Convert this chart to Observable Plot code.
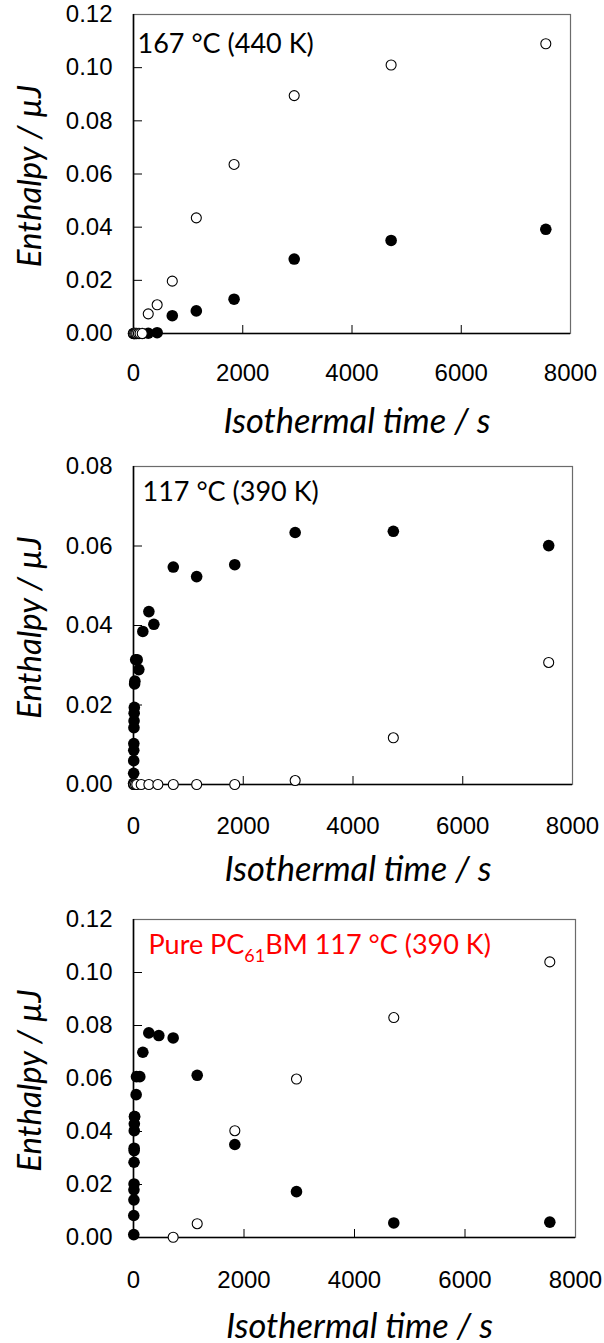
<!DOCTYPE html>
<html>
<head>
<meta charset="utf-8">
<script src="https://cdn.jsdelivr.net/npm/d3@7"></script>
<script src="https://cdn.jsdelivr.net/npm/@observablehq/plot@0.6"></script>
<style>
  html, body { margin: 0; padding: 0; background: #fff; }
  #chart svg { display: block; }
</style>
</head>
<body>
<div id="chart"></div>
<script>
// ---------- tick labels / axis text ----------
const xTicks = [0, 2000, 4000, 6000, 8000];
const yTicks012 = [0, 0.02, 0.04, 0.06, 0.08, 0.10, 0.12];
const yTicks008 = [0, 0.02, 0.04, 0.06, 0.08];
const xLabel = "Isothermal time / s";
const yLabel = "Enthalpy / µJ";
const titles = ["167 °C (440 K)", "117 °C (390 K)", "Pure PC61BM 117 °C (390 K)"];

// ---------- panel 1 : 167 °C ----------
const p1FilledTime = [0, 10, 20, 40, 60, 100, 160, 270, 433, 710, 1150, 1841, 2942, 4716, 7548];
const p1FilledVal  = [0, 0, 0, 0, 0, 0, 0, 0.0001, 0.0003, 0.0067, 0.0085, 0.0129, 0.0280, 0.0350, 0.0392];
const p1OpenTime   = [0, 20, 40, 60, 90, 120, 160, 270, 433, 710, 1150, 1841, 2942, 4716, 7548];
const p1OpenVal    = [0, 0, 0, 0, 0, 0, 0, 0.0074, 0.0108, 0.0197, 0.0435, 0.0636, 0.0895, 0.1010, 0.1090];

// ---------- panel 2 : 117 °C ----------
const p2FilledTime = [2, 3, 4, 5, 6, 8, 10, 12, 15, 20, 25, 40, 67, 97, 170, 280, 371, 725, 1151, 1845, 2946, 4735, 7566];
const p2FilledVal  = [0.0003, 0.0028, 0.0060, 0.0086, 0.0103, 0.0143, 0.0160, 0.0179, 0.0194, 0.0253, 0.0260, 0.0314, 0.0314, 0.0289, 0.0385, 0.0435, 0.0403, 0.0547, 0.0523, 0.0553, 0.0634, 0.0637, 0.0601];
const p2OpenTime   = [0, 10, 36, 60, 140, 280, 444, 725, 1151, 1845, 2946, 4735, 7566];
const p2OpenVal    = [0, 0, 0, 0, 0, 0, 0, 0, 0, 0, 0.0010, 0.01175, 0.0307];

// ---------- panel 3 : pure PC61BM 117 °C ----------
const p3FilledTime = [5, 5, 8, 8, 10, 10, 12, 12, 14, 15, 18, 20, 48, 54, 114, 169, 277, 458, 718, 1153, 1834, 2950, 4711, 7535];
const p3FilledVal  = [0.0011, 0.0083, 0.0142, 0.0180, 0.0202, 0.0284, 0.0328, 0.0337, 0.0403, 0.0429, 0.0456, 0.0456, 0.0539, 0.0607, 0.0607, 0.0699, 0.0772, 0.0762, 0.0753, 0.0612, 0.0351, 0.0173, 0.0055, 0.0058];
const p3OpenTime   = [718, 1153, 1834, 2950, 4711, 7535];
const p3OpenVal    = [0.0001, 0.0052, 0.0403, 0.0598, 0.0830, 0.1040];

const zip = (t, v) => t.map((d, i) => ({t: d, v: v[i]}));

const tickFont = "'Liberation Sans', Arial, sans-serif";
const textFont = "Lato, 'Open Sans', sans-serif";

function panel(cfg) {
  return Plot.plot({
    width: 604,
    height: cfg.height,
    marginTop: cfg.mt,
    marginBottom: cfg.mb,
    marginLeft: 133,
    marginRight: cfg.mr,
    style: {background: "white", overflow: "visible", fontFamily: tickFont},
    x: {domain: [0, 8000]},
    y: {domain: cfg.yDomain},
    marks: [
      Plot.frame({stroke: "#6b6b6b", strokeWidth: 1.2}),
      Plot.ruleX([0], {stroke: "#000", strokeWidth: 1.6}),
      Plot.ruleY([0], {stroke: "#000", strokeWidth: 1.6}),
      // inward tick marks
      Plot.axisY({ticks: cfg.yTicks.slice(1, -1), tickSize: -9, tickFormat: () => "", label: null, stroke: "#000"}),
      Plot.axisX({ticks: xTicks.slice(1, -1), tickSize: -8, tickFormat: () => "", label: null, stroke: "#000"}),
      // tick labels
      Plot.axisY({ticks: cfg.yTicks, tickSize: 0, tickPadding: 21, tickFormat: d3.format(".2f"),
                  fontSize: 24, fontFamily: tickFont, fill: "#000", label: null}),
      Plot.axisX({ticks: xTicks, tickSize: 0, tickPadding: cfg.xPad, tickFormat: d3.format("d"),
                  fontSize: 24, fontFamily: tickFont, fill: "#000", label: null}),
      // data
      Plot.dot(zip(cfg.filledT, cfg.filledV), {x: "t", y: "v", r: 5.8, fill: "#000", stroke: "none"}),
      Plot.dot(zip(cfg.openT, cfg.openV), {x: "t", y: "v", r: 5, fill: "#fff", stroke: "#000", strokeWidth: 1.1}),
      // panel title
      Plot.text([cfg.title], {text: d => d, frameAnchor: "top-left", textAnchor: "start", lineAnchor: "bottom",
                  dx: cfg.tdx, dy: cfg.tdy, fontSize: 27, fontFamily: textFont, fill: cfg.tcolor}),
      // axis titles
      Plot.text([xLabel], {text: d => d, frameAnchor: "bottom", textAnchor: "middle", lineAnchor: "bottom",
                  dx: 5, dy: cfg.xldy, fontSize: 34.5, fontStyle: "italic", fontFamily: textFont, fill: "#000"}),
      Plot.text([yLabel], {text: d => d, frameAnchor: "left", textAnchor: "middle", lineAnchor: "bottom",
                  rotate: -90, dx: -93, dy: 2, fontSize: 33, fontStyle: "italic", fontFamily: textFont, fill: "#000"})
    ]
  });
}

const chart = document.getElementById("chart");
chart.append(panel({
  height: 450, mt: 14, mb: 117, mr: 34, yDomain: [0, 0.12], yTicks: yTicks012, xPad: 30,
  filledT: p1FilledTime, filledV: p1FilledVal, openT: p1OpenTime, openV: p1OpenVal,
  title: titles[0], tdx: 4, tdy: 38, tcolor: "#000", xldy: 99
}));
chart.append(panel({
  height: 450, mt: 16, mb: 116, mr: 32, yDomain: [0, 0.08], yTicks: yTicks008, xPad: 32,
  filledT: p2FilledTime, filledV: p2FilledVal, openT: p2OpenTime, openV: p2OpenVal,
  title: titles[1], tdx: 9, tdy: 34, tcolor: "#000", xldy: 96
}));
const svg3 = panel({
  height: 443, mt: 19, mb: 106, mr: 29, yDomain: [0, 0.12], yTicks: yTicks012, xPad: 33,
  filledT: p3FilledTime, filledV: p3FilledVal, openT: p3OpenTime, openV: p3OpenVal,
  title: titles[2], tdx: 15, tdy: 34, tcolor: "#ff0000", xldy: 100
});
chart.append(svg3);

// subscript "61" in PC61BM
svg3.querySelectorAll("text").forEach(el => {
  if (el.textContent === titles[2]) {
    el.textContent = "";
    const ns = "http://www.w3.org/2000/svg";
    const a = document.createElementNS(ns, "tspan"); a.textContent = "Pure PC";
    const b = document.createElementNS(ns, "tspan"); b.textContent = "61";
    b.setAttribute("dy", "8"); b.setAttribute("font-size", "18");
    const c = document.createElementNS(ns, "tspan"); c.textContent = "BM 117 °C (390 K)";
    c.setAttribute("dy", "-8");
    el.append(a, b, c);
  }
});
</script>
</body>
</html>
